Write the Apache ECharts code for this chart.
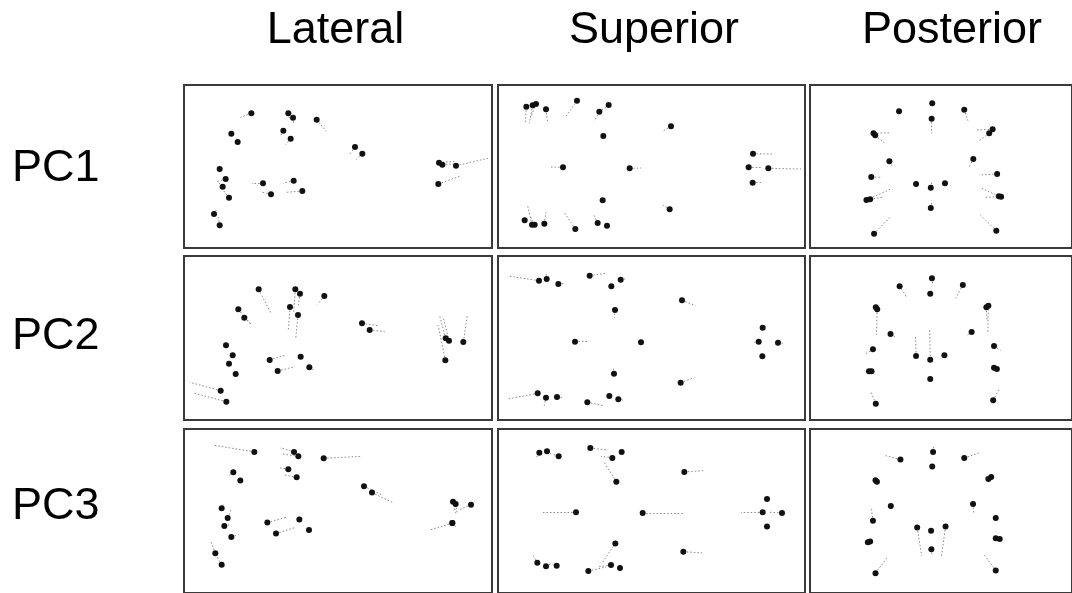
<!DOCTYPE html>
<html><head><meta charset="utf-8">
<script src="https://cdn.jsdelivr.net/npm/echarts@6/dist/echarts.min.js"></script>
<style>html,body{margin:0;padding:0;background:#fff}#c{width:1072px;height:593px}</style>
</head><body><div id="c"></div>
<script>
// Column and row labels
const columnTitles = ['Lateral', 'Superior', 'Posterior'];
const rowTitles = ['PC1', 'PC2', 'PC3'];

// Landmarks per panel: [x, y, vectorEndX, vectorEndY] (vector omitted if none)
const lateralPC1 = [
  [205,88,172,100],[316,88,320,105],[330,101,332,118],[401,107,430,142],[145,149],[164,174],
  [301,140,291,158],[323,164,308,182],[516,189,500,211],[538,209,520,226],
  [768,236,815,232],[778,242,815,240],[819,245,915,223],[766,300,832,276],
  [110,255],[128,285,103,292],[119,308,103,292],[138,341,120,318],[93,390,100,378],[110,424,105,395],
  [240,298,207,298],[264,331,235,324],[332,290,300,298],[358,321,310,325]
];
const superiorPC1 = [
  [91,68,88,118],[110,64,100,118],[120,60,104,100],[150,76,155,118],[243,50,208,100],
  [338,63,310,83],[310,83,295,112],[322,156],[525,127,503,140],[201,250,160,249],[401,253,435,252],
  [771,209,828,210],[758,250,800,250],[817,253,915,255],[770,296,795,296],
  [320,349],[521,376,500,363],[86,409],[108,422,95,365],[116,422,104,400],[145,419,150,385],
  [238,435,205,385],[305,417,292,390],[333,425]
];
const posteriorPC1 = [
  [437,58],[320,82],[550,77,563,110],[435,104,435,148],[230,148,290,146],[236,154,268,176],
  [650,136,593,138],[638,148,603,170],[286,232,298,250],[582,225,568,248],[222,279,260,280],
  [666,270,603,273],[380,300],[432,311,432,290],[482,298],[432,372,432,350],
  [205,348,288,316],[218,346,260,340],[672,337,612,313],[680,338,620,340],
  [232,449,292,396],[663,440,607,393]
];
const lateralPC2 = [
  [227,103,264,175],[337,103,332,170],[351,116,346,150],[424,123,403,148],[166,163,206,210],[184,188,206,210],
  [321,156,316,225],[345,180,338,252],[537,205,585,212],[560,225,605,230],
  [788,250,770,183],[798,257,780,185],[841,261,853,180],[787,316,765,210],
  [129,271],[149,301],[138,326],[158,357],[113,407,20,382],[130,440,35,415],
  [260,315,308,300],[284,348,336,335],[353,305],[379,337,395,347]
];
const superiorPC2 = [
  [129,77,35,63],[152,72,150,55],[187,87,205,85],[281,62,330,55],[346,94],[374,74,388,72],
  [357,165,355,188],[558,136,598,152],[237,260,275,260],[435,262,425,262],
  [800,218],[788,260,775,262],[846,263,865,265],[799,304],
  [354,356,352,335],[554,383,595,368],[125,415,35,432],[150,428,145,452],[183,426,202,428],
  [274,442,322,452],[340,423],[367,433,380,435]
];
const posteriorPC2 = [
  [436,70,437,92],[430,116,440,116],[322,94,348,128],[545,90,520,130],[238,157,240,178],[243,163,240,240],
  [635,152,633,235],[628,157,630,200],[290,237,310,247],[576,231,558,242],[228,283,203,296],
  [655,273,678,286],[380,303,378,240],[430,314,428,225],[480,301],[430,372],
  [223,349,205,349],[214,349],[655,338,675,340],[665,342],
  [238,446,222,412],[652,436,674,400]
];
const lateralPC3 = [
  [214,78,92,57],[333,78,292,65],[346,92,300,85],[422,98,537,92],[151,142,138,153],[172,168],
  [316,133,285,127],[341,158,300,150],[543,186,600,215],[567,206,628,237],
  [810,235,818,270],[818,242,822,268],[864,244,825,262],[808,302,740,324],[808,302,822,318],
  [116,255,120,243],[134,286,145,258],[124,311,145,306],[145,346,167,338],[97,397,82,357],[116,433,100,405],
  [253,300,312,283],[279,335,336,316],[349,291],[378,324]
];
const superiorPC3 = [
  [130,81,122,95],[153,76,170,88],[188,92,168,85],[283,66,335,72],[377,78],[349,97,315,92],
  [361,172,325,112],[565,141,625,137],[240,268,138,268],[440,270,560,271],
  [813,226],[800,268,735,268],[858,270,820,268],[813,313],
  [358,366,320,425],[562,392,618,396],[124,427,111,402],[150,438,165,430],[182,436,170,432],
  [277,453,330,440],[345,434,305,440],[372,443]
];
const posteriorPC3 = [
  [440,78,443,60],[325,102,265,88],[550,97,607,80],[437,124],[237,167],[242,172],
  [645,157],[635,163],[291,248],[581,242,583,270],[228,295,223,258],[661,286],
  [384,316,400,405],[433,326],[484,313,470,405],[434,384,437,405],
  [218,360],[210,362],[661,350],[675,352],[237,460,278,410],[661,451,618,399]
];

const panels = [
  [lateralPC1, superiorPC1, posteriorPC1],
  [lateralPC2, superiorPC2, posteriorPC2],
  [lateralPC3, superiorPC3, posteriorPC3]
];

// Layout (pixels)
const colLeft = [184, 498, 810], colW = [308, 307, 308];
const rowTop = [85, 256, 429], rowH = [163, 164, 172];
const refX = [183, 496, 808], refY = [84, 255, 427]; // origin of landmark coordinate frame
const S = 3; // landmark units per pixel

const grids = [], xAxes = [], yAxes = [], series = [];
let k = 0;
for (let r = 0; r < 3; r++) {
  for (let c = 0; c < 3; c++) {
    grids.push({left: colLeft[c], top: rowTop[r], width: colW[c], height: rowH[r],
      show: true, borderColor: '#3a3a3a', borderWidth: 2, backgroundColor: '#fff', containLabel: false});
    const xmin = (colLeft[c] - refX[c]) * S, ymin = (rowTop[r] - refY[r]) * S;
    xAxes.push({gridIndex: k, type: 'value', min: xmin, max: xmin + colW[c] * S, show: false});
    yAxes.push({gridIndex: k, type: 'value', inverse: true, min: ymin, max: ymin + rowH[r] * S, show: false});
    const pts = panels[r][c];
    series.push({type: 'lines', coordinateSystem: 'cartesian2d', xAxisIndex: k, yAxisIndex: k,
      silent: true, z: 1,
      lineStyle: {type: [1.5, 2], color: '#8a8a8a', width: 1, opacity: 1},
      data: pts.filter(p => p.length === 4).map(p => ({coords: [[p[0], p[1]], [p[2], p[3]]]}))});
    series.push({type: 'scatter', xAxisIndex: k, yAxisIndex: k, symbolSize: 6, z: 2,
      itemStyle: {color: '#111', opacity: 1},
      data: pts.map(p => [p[0], p[1]])});
    k++;
  }
}

const titleX = [335.5, 654, 952];
const rowY = [169, 337, 507];
const graphic = [];
columnTitles.forEach((t, i) => graphic.push({type: 'text', x: titleX[i], y: 31,
  style: {text: t, font: '45px "Liberation Sans", Arial, sans-serif', fill: '#000', textAlign: 'center', textVerticalAlign: 'middle'}}));
rowTitles.forEach((t, i) => graphic.push({type: 'text', x: 12, y: rowY[i],
  style: {text: t, font: '45px "Liberation Sans", Arial, sans-serif', fill: '#000', textAlign: 'left', textVerticalAlign: 'middle'}}));

const chart = echarts.init(document.getElementById('c'), null, {renderer: 'canvas'});
chart.setOption({animation: false, backgroundColor: '#fff', grid: grids, xAxis: xAxes, yAxis: yAxes, series, graphic});
</script></body></html>
